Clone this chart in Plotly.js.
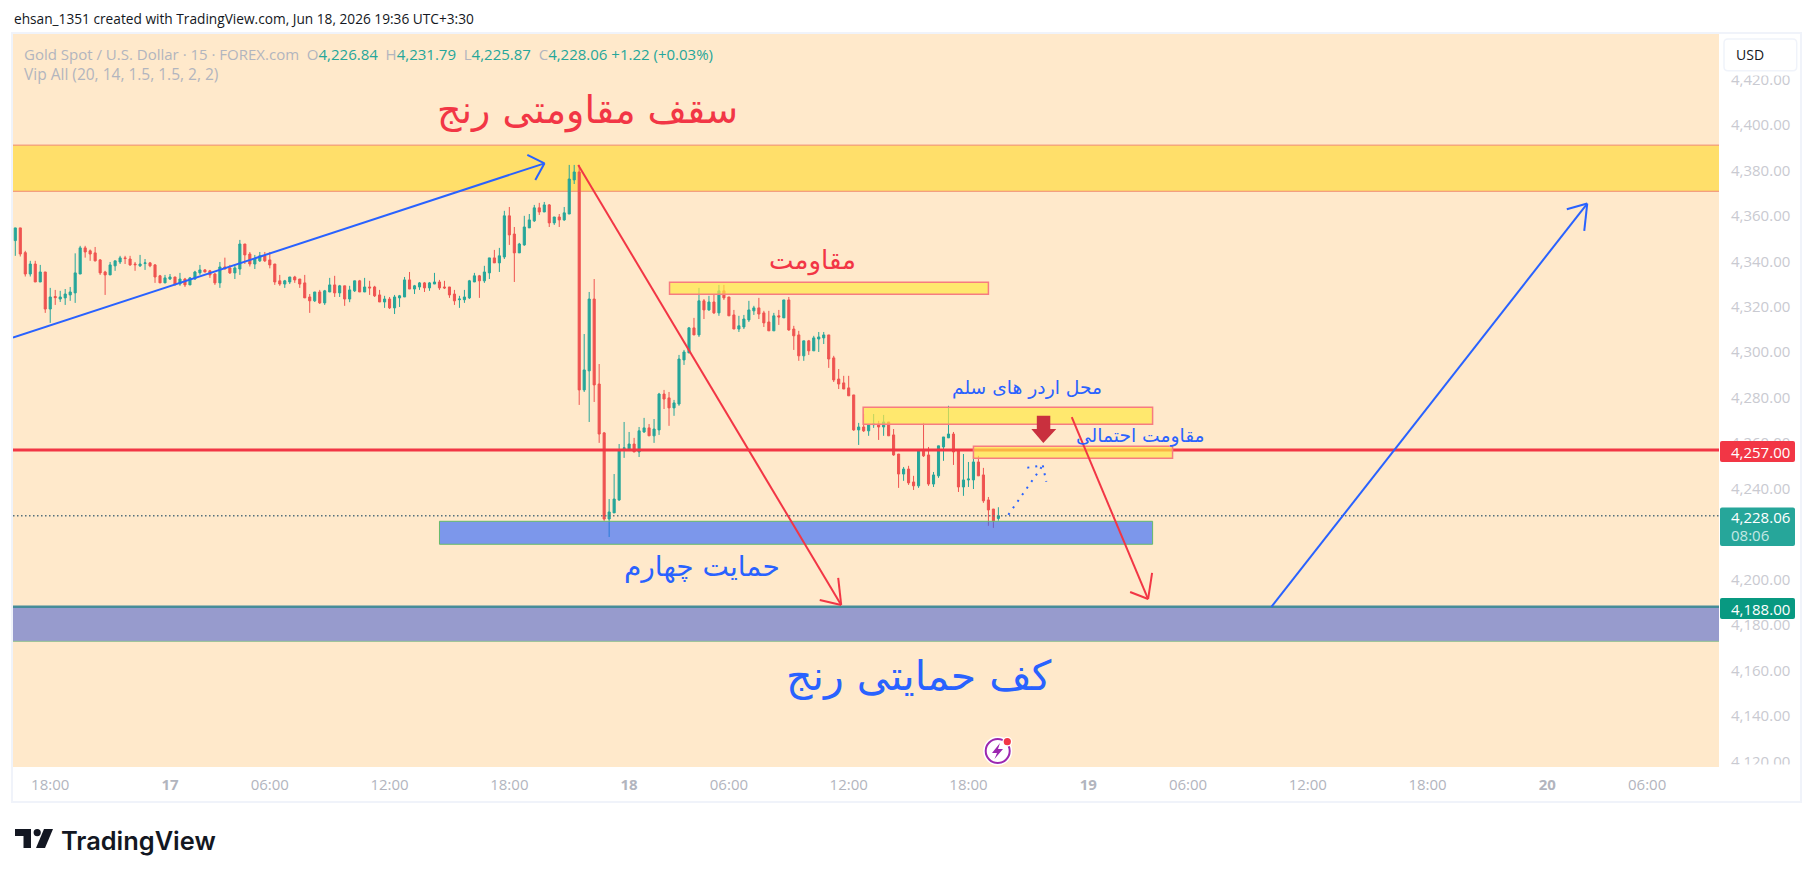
<!DOCTYPE html>
<html><head><meta charset="utf-8">
<script src="https://cdn.plot.ly/plotly-3.0.1.min.js"></script>
<style>html,body{margin:0;padding:0;background:#fff}#c{width:1814px;height:877px}</style></head>
<body><div id="c"></div>
<script>
const opens=[4349.1,4354.7,4343.8,4334.4,4338.8,4330.9,4335.3,4319.0,4324.5,4323.4,
4323.9,4325.2,4326.1,4334.4,4345.9,4344.6,4343.7,4340.6,4335.3,4334.0,
4338.0,4339.7,4341.5,4341.0,4338.8,4338.0,4339.0,4339.3,4338.4,4333.6,
4330.5,4332.2,4333.1,4330.0,4332.2,4329.6,4332.2,4334.9,4336.2,4335.8,
4334.4,4330.5,4337.5,4337.1,4334.9,4336.6,4347.6,4343.2,4338.8,4340.2,
4342.4,4340.6,4338.8,4331.4,4330.0,4330.9,4333.1,4332.2,4330.5,4324.3,
4322.6,4326.5,4321.7,4326.5,4329.6,4326.1,4329.2,4323.4,4327.0,4331.4,
4326.5,4328.7,4328.7,4325.2,4322.1,4323.4,4319.5,4323.9,4324.3,4331.8,
4327.8,4328.7,4330.5,4328.3,4330.0,4330.9,4328.7,4328.7,4325.6,4323.1,
4323.1,4323.9,4330.9,4333.6,4331.4,4334.9,4341.5,4339.3,4341.9,4360.0,
4352.0,4343.7,4347.2,4354.7,4357.8,4363.5,4361.7,4364.8,4356.9,4359.5,
4358.2,4360.8,4375.8,4379.3,4283.4,4291.8,4323.4,4286.0,4264.5,4226.6,
4229.3,4235.0,4257.6,4257.4,4259.6,4256.1,4264.9,4266.7,4263.2,4265.8,
4281.6,4279.9,4275.5,4277.2,4296.6,4299.7,4310.7,4307.6,4322.6,4318.6,
4322.1,4317.3,4327.0,4324.3,4316.4,4310.2,4311.1,4314.2,4318.2,4319.5,
4317.3,4313.3,4309.4,4316.0,4315.1,4323.0,4310.2,4307.6,4298.4,4305.0,
4300.6,4305.8,4306.3,4307.6,4297.5,4288.2,4286.5,4284.3,4281.2,4265.8,
4267.1,4265.4,4268.1,4268.4,4267.1,4269.3,4263.6,4255.2,4246.4,4248.6,
4242.9,4241.2,4256.6,4254.8,4242.0,4245.6,4258.3,4262.3,4264.0,4256.6,
4240.7,4243.8,4243.8,4251.7,4246.0,4235.0,4231.0,4226.84];
const highs=[4354.7,4354.7,4344.6,4340.2,4340.2,4338.4,4335.3,4328.3,4327.4,4327.0,
4327.8,4328.7,4343.5,4346.8,4346.8,4345.2,4346.3,4341.0,4335.8,4339.7,
4340.2,4342.4,4342.4,4342.4,4339.7,4342.8,4341.0,4339.7,4338.8,4334.0,
4334.0,4334.4,4333.1,4334.9,4332.7,4333.1,4335.8,4338.4,4336.6,4336.2,
4334.9,4339.7,4341.6,4338.4,4338.4,4349.4,4347.6,4344.1,4342.8,4344.1,
4344.1,4344.1,4338.8,4334.0,4331.8,4333.1,4333.6,4332.2,4334.0,4325.6,
4326.5,4327.4,4327.4,4332.7,4333.6,4329.6,4329.2,4329.2,4331.4,4331.8,
4332.7,4331.4,4329.2,4327.4,4324.8,4324.3,4325.2,4325.2,4333.1,4335.3,
4329.6,4330.9,4330.9,4330.9,4334.9,4331.8,4331.4,4328.7,4327.4,4324.8,
4327.4,4331.8,4334.9,4334.0,4338.0,4341.5,4345.0,4345.9,4362.2,4363.9,
4355.1,4348.1,4360.0,4360.8,4364.8,4365.7,4366.1,4365.2,4359.5,4360.8,
4363.9,4382.4,4382.4,4382.4,4308.0,4326.5,4332.2,4294.8,4264.9,4235.4,
4246.4,4259.6,4269.3,4264.9,4262.3,4267.1,4271.1,4268.4,4270.6,4282.1,
4283.4,4282.5,4279.0,4298.8,4301.0,4311.1,4315.1,4328.3,4323.4,4324.8,
4325.6,4329.6,4329.6,4324.3,4318.6,4316.0,4316.4,4322.6,4320.4,4323.9,
4318.2,4318.2,4317.3,4318.6,4323.0,4324.3,4311.6,4309.4,4305.0,4305.4,
4307.2,4308.9,4308.9,4307.6,4298.4,4292.6,4289.6,4289.6,4281.2,4268.9,
4272.8,4268.4,4272.8,4269.8,4272.4,4269.3,4266.2,4255.2,4249.5,4250.0,
4245.6,4257.4,4268.9,4258.3,4247.3,4258.8,4262.7,4276.4,4264.9,4257.4,
4255.2,4251.7,4254.4,4254.4,4249.1,4236.3,4231.0,4231.79];
const lows=[4342.4,4342.1,4333.3,4333.3,4330.9,4330.9,4317.3,4312.9,4320.8,4322.1,
4320.8,4322.6,4321.7,4334.4,4341.6,4340.2,4339.9,4334.0,4325.2,4334.0,
4335.8,4338.8,4338.8,4338.0,4335.8,4337.5,4336.2,4337.4,4330.5,4330.5,
4330.5,4331.8,4329.2,4329.2,4328.7,4329.6,4331.8,4334.0,4335.2,4332.7,
4329.6,4328.3,4336.5,4334.4,4332.2,4334.0,4338.8,4337.7,4336.6,4339.7,
4339.7,4336.9,4329.6,4329.2,4328.3,4330.0,4330.5,4328.3,4323.9,4317.3,
4322.1,4321.2,4320.8,4326.5,4324.3,4324.3,4320.4,4322.0,4326.5,4326.5,
4326.5,4325.2,4324.3,4322.1,4319.5,4319.0,4316.8,4319.9,4324.3,4327.8,
4325.6,4327.4,4326.5,4327.0,4330.0,4327.4,4327.8,4323.9,4320.8,4319.5,
4321.7,4323.4,4330.9,4323.9,4330.5,4332.2,4339.3,4335.3,4341.0,4347.2,
4330.9,4343.7,4346.8,4354.7,4357.3,4360.4,4361.7,4355.1,4356.0,4355.1,
4357.8,4360.8,4374.0,4276.8,4282.5,4269.3,4278.1,4260.1,4225.8,4218.7,
4229.3,4234.6,4253.5,4257.4,4256.1,4253.9,4264.5,4263.2,4260.1,4263.6,
4275.0,4267.6,4272.0,4276.4,4294.4,4299.7,4307.6,4306.7,4314.6,4318.2,
4316.8,4316.0,4323.0,4316.0,4310.2,4308.9,4310.2,4313.3,4316.4,4314.6,
4311.1,4309.4,4309.4,4312.0,4315.1,4309.4,4301.0,4296.2,4296.2,4298.8,
4300.6,4300.1,4303.6,4293.1,4286.9,4283.8,4283.8,4280.8,4265.4,4259.2,
4264.9,4263.2,4266.7,4261.4,4263.2,4263.2,4254.4,4240.3,4243.4,4241.6,
4239.4,4240.3,4253.9,4241.2,4240.7,4244.7,4252.2,4262.3,4250.4,4238.5,
4236.8,4240.7,4239.8,4245.6,4233.7,4223.6,4222.7,4225.87];
const closes=[4354.7,4343.2,4334.4,4338.8,4330.9,4335.3,4319.0,4324.3,4324.0,4324.3,
4325.6,4326.5,4334.9,4345.9,4344.1,4343.2,4340.2,4334.9,4334.0,4338.4,
4340.2,4341.5,4341.2,4338.4,4338.5,4338.8,4339.3,4338.0,4333.1,4330.5,
4332.7,4333.1,4330.0,4332.2,4329.6,4332.7,4335.3,4336.2,4335.3,4334.0,
4330.5,4337.5,4336.6,4334.9,4337.1,4347.6,4342.8,4338.8,4341.0,4342.4,
4340.2,4338.4,4330.9,4330.0,4331.4,4333.1,4331.8,4330.0,4323.9,4322.6,
4326.5,4321.7,4327.0,4329.6,4326.1,4329.2,4323.4,4327.4,4331.4,4326.5,
4328.7,4328.3,4324.8,4322.1,4323.4,4319.5,4324.3,4324.8,4331.8,4327.8,
4329.2,4330.5,4328.3,4330.5,4330.9,4328.3,4328.3,4325.2,4322.6,4323.4,
4324.3,4331.4,4333.6,4331.4,4335.3,4341.5,4339.3,4342.4,4360.0,4351.6,
4343.7,4347.6,4355.1,4358.2,4363.5,4361.7,4364.8,4356.9,4359.5,4358.2,
4361.3,4376.2,4379.3,4283.4,4292.2,4323.4,4285.6,4264.0,4226.6,4229.7,
4235.4,4257.0,4257.9,4259.6,4256.1,4265.4,4266.7,4263.2,4266.2,4281.6,
4279.4,4275.5,4277.7,4297.0,4300.1,4310.7,4307.6,4322.6,4318.6,4322.1,
4317.3,4327.0,4323.9,4316.0,4310.2,4311.6,4314.6,4318.6,4319.5,4316.8,
4312.9,4309.4,4316.0,4315.5,4323.0,4309.8,4307.2,4298.4,4305.0,4300.6,
4306.3,4306.7,4307.6,4297.0,4287.8,4286.0,4283.8,4280.8,4265.8,4267.1,
4265.4,4268.0,4268.4,4267.1,4269.3,4263.2,4254.8,4246.4,4248.6,4242.5,
4241.2,4257.0,4254.4,4242.0,4246.0,4258.8,4262.7,4264.0,4256.1,4240.7,
4243.8,4244.2,4251.7,4245.6,4234.6,4230.6,4225.8,4228.06];

const timeTickBars=[7,31,51,75,99,123,143,167,191,215,235,259,283,307,327];
const timeTickLabels=['18:00','<b>17</b>','06:00','12:00','18:00','<b>18</b>','06:00','12:00','18:00','<b>19</b>','06:00','12:00','18:00','<b>20</b>','06:00'];
const priceTicks=[4120,4140,4160,4180,4200,4220,4240,4260,4280,4300,4320,4340,4360,4380,4400,4420];

// Drawings on the chart: [bar, price] anchors
const blueArrowUp=[[-0.46,4306.4],[106.05,4383.1]], blueArrowUpHead=[[102.6,4386.8],[106.05,4383.1],[104.2,4375.8]];
const redArrowA=[[112.8,4382.4],[165.5,4188.8]], redArrowAHead=[[161.2,4191],[165.5,4188.8],[164.9,4200.7]];
const redArrowB=[[211.7,4271.4],[227,4191.4]], redArrowBHead=[[223.4,4194.5],[227,4191.4],[227.8,4202.9]];
const blueArrowB=[[251.7,4187.9],[315,4365.4]], blueArrowBHead=[[310.9,4362.9],[315,4365.4],[314.4,4353.4]];
const dottedArrow=[[199,4228.5],[205.9,4250.2]], dottedHead=[[202.8,4249.2],[205.9,4250.2],[206.6,4243]];
const downMarker=[[204.7,4272],[207.4,4272],[207.4,4266.2],[208.6,4266.2],[206,4260],[203.6,4266.2],[204.7,4266.2]];
const zoneTop=[4391.1,4370.8], zoneBottom=[4187.8,4172.8];
const zoneResist=[131.1,195,4330.8,4325.5], zoneSell=[169.9,227.9,4275.8,4268.3], zoneMaybe=[192,231.9,4258.6,4253.3], zoneSupport=[85,227.9,4225.6,4215.5];
const levelRed=4257, levelGreen=4188, levelLast=4228.06;

const L=13,R=1719,T=34,B=767;
const px=x=>(x-L)/(R-L), py=y=>(B-y)/(B-T);
const bars=closes.map((_,i)=>i);
const GREEN='#26a69a', RED='#ef5350', BLUE='#2962ff', TVRED='#f23645';

function seg(a,col,w,dash){return {type:'line',xref:'x',yref:'y',x0:a[0][0],y0:a[0][1],x1:a[1][0],y1:a[1][1],line:{color:col,width:w,dash:dash||'solid'},layer:'above'};}
function arrow(a,h,col,w,dash){return [seg(a,col,w,dash),seg(h.slice(0,2),col,w,dash),seg(h.slice(1,3),col,w,dash)];}
function band(z,fill){return {type:'rect',xref:'paper',yref:'y',x0:0,x1:1,y0:z[0],y1:z[1],fillcolor:fill,line:{width:0},layer:'below'};}
function zone(z,fill,line,w){return {type:'rect',xref:'x',yref:'y',x0:z[0],x1:z[1],y0:z[2],y1:z[3],fillcolor:fill,line:{color:line,width:w},layer:'above'};}
function hline(p,col,w,dash,layer){return {type:'line',xref:'paper',yref:'y',x0:0,x1:1,y0:p,y1:p,line:{color:col,width:w,dash:dash||'solid'},layer:layer||'above'};}
function rrect(x0,y0,x1,y1,r,fill,line,lw){
 const c=(x,y)=>px(x)+','+py(y);
 return {type:'path',xref:'paper',yref:'paper',fillcolor:fill,line:{color:line||fill,width:lw||0},layer:'above',
 path:'M'+c(x0+r,y0)+' L'+c(x1-r,y0)+' Q'+c(x1,y0)+' '+c(x1,y0+r)+' L'+c(x1,y1-r)+' Q'+c(x1,y1)+' '+c(x1-r,y1)+' L'+c(x0+r,y1)+' Q'+c(x0,y1)+' '+c(x0,y1-r)+' L'+c(x0,y0+r)+' Q'+c(x0,y0)+' '+c(x0+r,y0)+' Z'};}
function poly(pts,fill){return {type:'path',xref:'paper',yref:'paper',fillcolor:fill,line:{width:0},layer:'above',path:'M'+pts.map(p=>px(p[0])+','+py(p[1])).join(' L')+' Z'};}
function circ(cx,cy,r,fill,line,lw){return {type:'circle',xref:'paper',yref:'paper',x0:px(cx-r),x1:px(cx+r),y0:py(cy+r),y1:py(cy-r),fillcolor:fill,line:{color:line||fill,width:lw||0},layer:'above'};}
function mask(x0,y0,x1,y1){return {type:'rect',xref:'paper',yref:'paper',x0:px(x0),x1:px(x1),y0:py(y1),y1:py(y0),fillcolor:'#fff',line:{width:0},layer:'above'};}

const shapes=[
 band(zoneBottom,'#979bcd'),
 hline(zoneBottom[1],'#8fbf8f',1,'solid','below'),
 band(zoneTop,'#ffdf6a'),
 hline(zoneTop[0],'#f08a70',1,'solid','below'),
 hline(zoneTop[1],'#f08a70',1,'solid','below'),
 hline(levelGreen,'#468c99',2.5),
 zone(zoneSupport,'rgba(41,98,255,0.61)','#66bb6a',1),
 hline(levelLast,'#55707c',1.5,'1.5px,2.5px'),
 hline(levelRed,TVRED,3),
 zone(zoneResist,'rgba(255,231,70,0.7)','#f77c80',1.5),
 zone(zoneSell,'rgba(255,231,70,0.7)','#f77c80',1.5),
 zone(zoneMaybe,'rgba(255,231,70,0.7)','#f77c80',1.5),
 ...arrow(blueArrowUp,blueArrowUpHead,BLUE,2),
 ...arrow(redArrowA,redArrowAHead,TVRED,2),
 ...arrow(redArrowB,redArrowBHead,TVRED,2),
 ...arrow(blueArrowB,blueArrowBHead,BLUE,2),
 ...arrow(dottedArrow,dottedHead,BLUE,2,'2px,6px'),
 {type:'path',xref:'x',yref:'y',fillcolor:'#c9303e',line:{width:0},layer:'above',path:'M'+downMarker.map(p=>p.join(',')).join(' L')+' Z'},
 // chrome
 mask(R,764.5,1800,802),
 mask(1722,70,1800,75.5),
 {type:'rect',xref:'paper',yref:'paper',x0:px(12),x1:px(1801),y0:py(802),y1:py(33),fillcolor:'rgba(0,0,0,0)',line:{color:'#f0f3fa',width:2},layer:'above'},
 rrect(1724,39,1796.7,70.7,4,'#ffffff','#f0f3fa',1.5),
 rrect(1720,441,1795,462,2,TVRED),
 rrect(1720,507.5,1795,546,2,GREEN),
 rrect(1720,598,1795,619,2,'#089981'),
 // alert icon
 circ(997.7,751,14.5,'#ffffff'),
 circ(997.7,751,12,'rgba(0,0,0,0)','#9c27b0',2),
 poly([[1000,743],[992,753],[997,753],[994.5,759],[1003,749],[998,749]],'#9c27b0'),
 circ(1007.3,741.7,5,'#ffffff'),
 circ(1007.3,741.7,3.6,'#f23645'),
 // logo
 poly([[15,829],[31,829],[31,848],[23.5,848],[23.5,836],[15,836]],'#131722'),
 circ(37.2,832.6,3.6,'#131722'),
 poly([[44,829],[53,829],[45,848],[36,848]],'#131722')
];

function pTxt(x,y,text,size,color,anchor,extra){return Object.assign({xref:'paper',yref:'paper',x:px(x),y:py(y),text:text,showarrow:false,xanchor:anchor||'left',yanchor:'middle',align:'left',font:{family:'"Open Sans",sans-serif',size:size,color:color},borderpad:0},extra||{});}
function dTxt(bar,price,text,size,color){return {xref:'x',yref:'y',x:bar,y:price,text:text,showarrow:false,xanchor:'center',yanchor:'middle',font:{family:'"DejaVu Sans",sans-serif',size:size,color:color}};}
const G=GREEN, GY='#b2b5be';
const sp=(c,t)=>'<span style="color:'+c+'">'+t+'</span>';
const annotations=[
 pTxt(13,19,'ehsan_1351 created with TradingView.com, Jun 18, 2026 19:36 UTC+3:30',13.7,'#131722'),
 pTxt(23,54,sp(GY,'Gold Spot / U.S. Dollar · 15 · FOREX.com  O')+sp(G,'4,226.84')+sp(GY,'  H')+sp(G,'4,231.79')+sp(GY,'  L')+sp(G,'4,225.87')+sp(GY,'  C')+sp(G,'4,228.06 +1.22 (+0.03%)'),15,GY),
 pTxt(23,74,'Vip All (20, 14, 1.5, 1.5, 2, 2)',15.5,GY),
 dTxt(114.6,4406.2,'سقف مقاومتی رنج',38,TVRED),
 dTxt(159.7,4340.2,'مقاومت',26,TVRED),
 dTxt(202.7,4284.3,'محل اردر های سلم',18.7,BLUE),
 dTxt(225.5,4263.2,'مقاومت احتمالی',18.7,BLUE),
 dTxt(137.6,4205.5,'حمایت چهارم',28,BLUE),
 dTxt(181,4157.5,'کف حمایتی رنج',41,BLUE),
 pTxt(1735,55,'USD',14,'#131722'),
 pTxt(1730,451.5,'4,257.00',15,'#ffffff'),
 pTxt(1730,517,'4,228.06',15,'#ffffff'),
 pTxt(1730,535,'08:06',15,'#c4e8e4'),
 pTxt(1730,608.5,'4,188.00',15,'#ffffff'),
 pTxt(60,840,'TradingView',25.4,'#131722','left',{font:{family:'Inter,sans-serif',size:25.4,color:'#131722',weight:600}})
];

Plotly.newPlot('c',[{
 type:'candlestick',x:bars,open:opens,high:highs,low:lows,close:closes,
 increasing:{line:{color:GREEN,width:1},fillcolor:GREEN},
 decreasing:{line:{color:RED,width:1},fillcolor:RED},
 whiskerwidth:0,hoverinfo:'skip',showlegend:false
}],{
 width:1814,height:877,autosize:false,
 margin:{l:L,r:1814-R,t:T,b:877-B,pad:0},
 paper_bgcolor:'#ffffff',plot_bgcolor:'#ffe9cb',
 showlegend:false,hovermode:false,dragmode:false,boxgap:0.4,
 xaxis:{type:'linear',range:[-0.46,341.4],tickmode:'array',tickvals:timeTickBars,ticktext:timeTickLabels,showgrid:false,zeroline:false,showline:false,ticks:'outside',ticklen:4,tickcolor:'rgba(0,0,0,0)',tickfont:{family:'"Open Sans",sans-serif',size:15,color:'#b2b5be'},rangeslider:{visible:false},fixedrange:true},
 yaxis:{side:'right',range:[4117.5,4440],tickmode:'array',tickvals:priceTicks,tickformat:',.2f',showgrid:false,zeroline:false,showline:false,ticks:'outside',ticklen:8,tickcolor:'rgba(0,0,0,0)',tickfont:{family:'"Open Sans",sans-serif',size:15,color:'#c9cad1'},fixedrange:true},
 shapes,annotations
},{displayModeBar:false,staticPlot:true});
</script></body></html>
